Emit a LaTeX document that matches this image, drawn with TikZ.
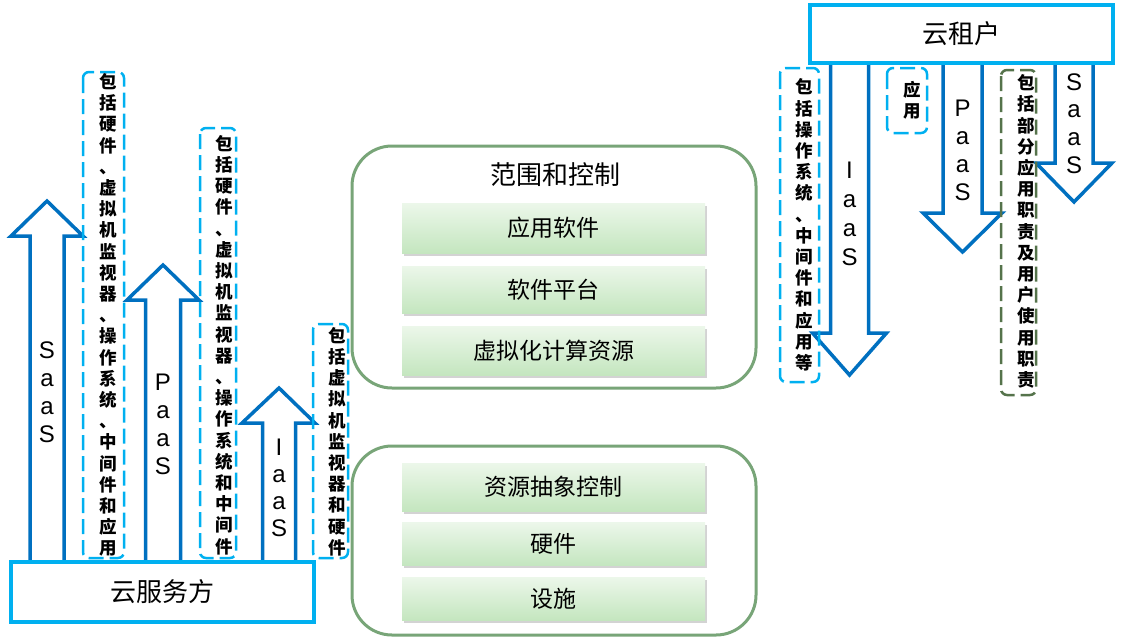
\documentclass[tikz,border=0pt]{standalone}
\usepackage{fontspec}
\newfontfamily\cjk{Noto Sans CJK SC}
\newfontfamily\latinsans{Liberation Sans}
\usepackage{xcolor}
\usepackage{tikz}
\usetikzlibrary{shadows}

\definecolor{shenlan}{RGB}{0,112,192}
\definecolor{qianlan}{RGB}{0,176,240}
\definecolor{lvkuang}{RGB}{120,165,120}
\definecolor{shenlv}{RGB}{85,115,75}
\definecolor{cengding}{RGB}{236,247,234}
\definecolor{cengdi}{RGB}{196,230,191}

\begin{document}
\begin{tikzpicture}[x=1pt, y=-1pt,
    jiantou/.style={draw=shenlan, line width=3.5pt, fill=white, line join=miter},
    kuang/.style={draw=qianlan, line width=3.5pt, fill=white, minimum width=303pt,
        minimum height=58pt, inner sep=0pt, font=\cjk\fontsize{26}{30}\selectfont},
    xuxian/.style={draw=qianlan, line width=2.5pt, dash pattern=on 15pt off 6pt, rounded corners=6pt},
    shuwen/.style={font=\cjk\bfseries\fontsize{17.5}{21.2}\selectfont, align=center, inner sep=0pt},
    zimu/.style={font=\latinsans\fontsize{24}{28}\selectfont, align=center, inner sep=0pt},
    fanwei/.style={draw=lvkuang, line width=3pt, rounded corners=40pt},
    ceng/.style={top color=cengding, bottom color=cengdi, draw=none, minimum width=303pt,
        inner sep=0pt, font=\cjk\fontsize{23}{27}\selectfont,
        drop shadow={shadow xshift=1.5pt, shadow yshift=-2.5pt, opacity=0.35}}]
    \useasboundingbox (0,0) rectangle (1123,643);

    % 云服务方的三个向上箭头
    \draw[jiantou] (30,562) -- (30,236) -- (11,236) -- (47,201) -- (83,236) -- (64,236) -- (64,562);
    \draw[jiantou] (145.5,562) -- (145.5,300) -- (127,300) -- (163,265) -- (199,300) -- (180.5,300) -- (180.5,562);
    \draw[jiantou] (262.5,562) -- (262.5,423) -- (242,423) -- (279,388) -- (315,423) -- (295.5,423) -- (295.5,562);
    \node[zimu] (saasA) at (47,392.5) {S\\a\\a\\S};
    \node[zimu] (paasA) at (163,424.5) {P\\a\\a\\S};
    \node[zimu, font=\latinsans\fontsize{24}{27}\selectfont] (iaasA) at (279,487.5) {I\\a\\a\\S};

    % 左边的虚线说明框
    \draw[xuxian] (83,72) rectangle (124,558);
    \draw[xuxian] (200,128) rectangle (236,558);
    \draw[xuxian] (313,324) rectangle (348,558);
    \node[shuwen] (shuoming1) at (108.5,315) {包\\括\\硬\\件\\、\\虚\\拟\\机\\监\\视\\器\\、\\操\\作\\系\\统\\、\\中\\间\\件\\和\\应\\用};
    \node[shuwen] (shuoming2) at (224,345) {包\\括\\硬\\件\\、\\虚\\拟\\机\\监\\视\\器\\、\\操\\作\\系\\统\\和\\中\\间\\件};
    \node[shuwen] (shuoming3) at (337.5,441.5) {包\\括\\虚\\拟\\机\\监\\视\\器\\和\\硬\\件};

    % 云服务方
    \node[kuang, minimum height=60pt] (fuwu) at (162.5,592) {云服务方};

    % 云租户的三个向下箭头
    \draw[jiantou] (830.5,63) -- (830.5,333) -- (812.5,333) -- (849.5,375) -- (886.5,333) -- (868.5,333) -- (868.5,63);
    \draw[jiantou] (943,63) -- (943,213) -- (923,213) -- (962.5,252) -- (1002,213) -- (982,213) -- (982,63);
    \draw[jiantou] (1055,63) -- (1055,163) -- (1036,163) -- (1074,202) -- (1112,163) -- (1093,163) -- (1093,63);
    \node[zimu, font=\latinsans\fontsize{24}{29}\selectfont] (iaasB) at (849.5,213.5) {I\\a\\a\\S};
    \node[zimu] (paasB) at (962.5,150) {P\\a\\a\\S};
    \node[zimu, font=\latinsans\fontsize{24}{27.7}\selectfont] (saasB) at (1074,123.5) {S\\a\\a\\S};

    % 右边的虚线说明框
    \draw[xuxian] (780,68) rectangle (819,382);
    \draw[xuxian] (887,68) rectangle (927,133);
    \draw[xuxian, draw=shenlv] (1001,70) rectangle (1036,395);
    \node[shuwen] (shuoming4) at (804.5,225) {包\\括\\操\\作\\系\\统\\、\\中\\间\\件\\和\\应\\用\\等};
    \node[shuwen] (shuoming5) at (912.5,100) {应\\用};
    \node[shuwen] (shuoming6) at (1026,231.5) {包\\括\\部\\分\\应\\用\\职\\责\\及\\用\\户\\使\\用\\职\\责};

    % 云租户
    \node[kuang] (zuhu) at (961.5,34) {云租户};

    % 中间: 范围和控制
    \draw[fanwei] (352,146) rectangle (756,388);
    \node[font=\cjk\fontsize{26}{30}\selectfont] (biaoti) at (555,175) {范围和控制};
    \node[ceng, minimum height=50pt] (yingyong) at (553.5,228) {应用软件};
    \node[ceng, minimum height=47pt] (pingtai) at (553.5,289.5) {软件平台};
    \node[ceng, minimum height=49pt] (xuni) at (553.5,350.5) {虚拟化计算资源};

    % 中间: 资源抽象控制
    \draw[fanwei] (352,446) rectangle (756,635);
    \node[ceng, minimum height=48pt] (chouxiang) at (553.5,487) {资源抽象控制};
    \node[ceng, minimum height=43pt] (yingjian) at (553.5,544) {硬件};
    \node[ceng, minimum height=43pt] (sheshi) at (553.5,598.5) {设施};
\end{tikzpicture}
\end{document}
